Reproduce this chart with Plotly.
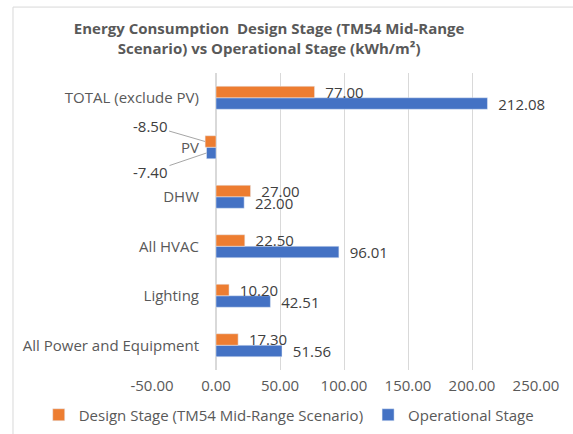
import plotly.graph_objects as go

categories = ["All Power and Equipment", "Lighting", "All HVAC", "DHW", "PV", "TOTAL (exclude PV)"]
design_stage = [17.30, 10.20, 22.50, 27.00, -8.50, 77.00]
operational_stage = [51.56, 42.51, 96.01, 22.00, -7.40, 212.08]
tick_vals = [-50, 0, 50, 100, 150, 200, 250]
tick_labels = ["-50.00", "0.00", "50.00", "100.00", "150.00", "200.00", "250.00"]

ORANGE = "#ED7D31"
BLUE = "#4472C4"
TXT = "#595959"
FONT = "Open Sans"
FS = 15

def lab(v):
    return "" if v < 0 else "\u00a0\u00a0" + f"{v:.2f}"

fig = go.Figure()
fig.add_trace(go.Bar(
    y=categories, x=operational_stage, orientation="h", name="Operational Stage",
    marker_color=BLUE, text=[lab(v) for v in operational_stage],
    textposition="outside", constraintext="none", cliponaxis=False,
    textfont=dict(family=FONT, size=FS, color="#404040"),
))
fig.add_trace(go.Bar(
    y=categories, x=design_stage, orientation="h", name="Design Stage (TM54 Mid-Range Scenario)",
    marker_color=ORANGE, text=[lab(v) for v in design_stage],
    textposition="outside", constraintext="none", cliponaxis=False,
    textfont=dict(family=FONT, size=FS, color="#404040"),
))

pv_i = categories.index("PV")
fig.add_annotation(x=design_stage[pv_i], y=pv_i + 0.116, xref="x", yref="y",
                   text=f"{design_stage[pv_i]:.2f}", showarrow=True, arrowhead=0,
                   arrowwidth=1, arrowcolor="#a6a6a6", ax=-55, ay=-16,
                   font=dict(family=FONT, size=FS, color="#404040"))
fig.add_annotation(x=operational_stage[pv_i], y=pv_i - 0.116, xref="x", yref="y",
                   text=f"{operational_stage[pv_i]:.2f}", showarrow=True, arrowhead=0,
                   arrowwidth=1, arrowcolor="#a6a6a6", ax=-56, ay=19,
                   font=dict(family=FONT, size=FS, color="#404040"))

fig.add_shape(type="rect", xref="paper", yref="paper", x0=-0.362, x1=2, y0=-1, y1=1.222,
              line=dict(color="#d9d9d9", width=1), layer="below")

fig.update_layout(
    width=573, height=434,
    margin=dict(l=152, r=37, t=73, b=64, autoexpand=False),
    paper_bgcolor="white", plot_bgcolor="white",
    barmode="group", bargap=0.535, bargroupgap=0,
    title=dict(text="Energy Consumption  Design Stage (TM54 Mid-Range<br>Scenario) vs Operational Stage (kWh/m²)",
               x=0.305, xref="paper", xanchor="center", y=0.921, yanchor="middle",
               font=dict(family=FONT, size=15, color=TXT, weight="bold")),
    xaxis=dict(range=[-50, 250], tickvals=tick_vals, ticktext=tick_labels, automargin=False,
               showgrid=True, gridcolor="#d9d9d9", zeroline=True, zerolinecolor="#d9d9d9",
               ticklabelstandoff=5,
               tickfont=dict(family=FONT, size=FS, color=TXT), ticks="", fixedrange=True),
    yaxis=dict(type="category", showgrid=False, ticklabelstandoff=17, automargin=False,
               anchor="free", position=1/6, showline=False,
               tickfont=dict(family=FONT, size=FS, color=TXT), ticks=""),
    legend=dict(orientation="h", xref="paper", x=-0.295, xanchor="left",
                yref="paper", y=-0.1515, yanchor="middle",
                traceorder="reversed", font=dict(family=FONT, size=FS, color=TXT),
                itemwidth=30, bgcolor="rgba(0,0,0,0)"),
    showlegend=True,
)

fig.write_html("out.html", config={"displayModeBar": False},
               post_script="document.body.style.margin='0';")
